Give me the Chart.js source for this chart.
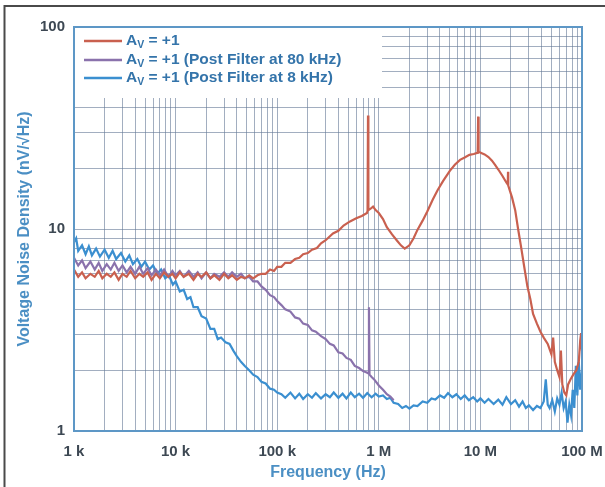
<!DOCTYPE html>
<html>
<head>
<meta charset="utf-8">
<script src="https://cdn.jsdelivr.net/npm/chart.js@4/dist/chart.umd.min.js"></script>
<style>
html,body{margin:0;padding:0;background:#fff;}
#wrap{position:relative;width:605px;height:487px;}
</style>
</head>
<body>
<div id="wrap"><canvas id="c" width="605" height="487"></canvas></div>
<script>
// ---- data (frequencies in kHz, noise density in nV/√Hz) ----
const seriesNames = ['A_V = +1', 'A_V = +1 (Post Filter at 80 kHz)', 'A_V = +1 (Post Filter at 8 kHz)'];

const redFreq = [1,1.1,1.2,1.3,1.45,1.6,1.75,1.9,2.1,2.3,2.5,2.75,3,3.3,3.6,4,4.4,4.8,5.3,5.8,6.4,7,7.7,8.5,9.3,10,11,12,13.5,15,16.5,18,20,22,24,27,30,33,36,40,44,48,53,58,64,70,77,85,93,100,110,120,135,150,165,180,200,220,246,270,300,354,400,450,521,600,680,765,775,783,790,830,878,930,1000,1100,1200,1350,1500,1650,1800,2000,2200,2400,2700,3000,3400,3800,4300,5000,5600,6300,7000,7800,8600,9300,9400,9500,9600,10200,11000,12000,13000,14000,15000,16500,18000,18600,18700,18800,20500,22000,23500,25000,27000,29000,31000,33000,36000,39000,42000,46000,50000,52000,54000,57000,60000,62000,64000,67000,70000,73000,77000,82000,88000,93000,96000,98000,100000];
const redVal = [6.3,5.8,6.1,5.7,6.0,5.8,6.2,5.7,6.0,5.8,6.1,5.6,6.0,5.8,6.2,5.7,6.0,5.8,6.1,5.6,6.0,5.7,6.1,5.8,6.0,5.7,6.1,5.8,6.0,5.6,6.0,5.8,6.1,5.7,5.9,5.6,6.0,5.7,5.9,5.6,5.8,5.7,5.9,5.7,5.9,6.0,6.0,6.3,6.2,6.5,6.5,6.8,6.8,7.1,7.2,7.5,7.6,7.9,8.05,8.5,8.8,9.5,9.8,10.4,10.9,11.3,11.6,12.0,12.3,36.5,12.4,12.6,12.9,12.4,12.0,11.2,10.2,9.4,8.8,8.3,8.0,8.3,9.0,9.9,11.0,12.2,14.0,15.6,17.3,19.4,20.8,22.0,22.6,23.3,23.5,23.8,23.9,36,24.1,23.8,23.4,22.7,21.8,20.7,19.7,18.3,17.0,16.6,19.2,16.4,14.3,12.4,10.0,8.3,6.5,5.2,4.5,3.8,3.4,3.1,2.9,2.7,2.4,2.9,2.2,2.0,1.85,2.5,1.7,1.55,1.5,1.7,1.8,1.9,2.0,2.2,2.8,3.05,2.5];

const purpleFreq = [1,1.1,1.2,1.3,1.45,1.6,1.75,1.9,2.1,2.3,2.5,2.75,3,3.3,3.6,4,4.4,4.8,5.3,5.8,6.4,7,7.7,8.5,9.3,10,11,12,13.5,15,16.5,18,20,22,24,27,30,33,36,40,44,48,53,58,64,70,77,85,93,100,110,120,135,150,165,180,200,220,240,270,300,330,360,400,440,480,530,580,640,700,760,790,800,810,850,900,1000,1100,1200,1300,1400];
const purpleVal = [7.2,6.6,7.0,6.4,6.9,6.3,6.8,6.2,6.7,6.3,6.8,6.2,6.6,6.1,6.5,6.0,6.5,6.0,6.4,5.9,6.3,5.9,6.3,5.8,6.2,5.9,6.2,5.8,6.2,5.8,6.1,5.7,6.1,5.7,6.0,5.8,6.1,5.8,6.1,5.8,6.0,5.7,5.8,5.5,5.5,5.2,5.0,4.7,4.6,4.4,4.2,4.0,3.9,3.65,3.6,3.4,3.35,3.15,3.1,2.95,2.85,2.7,2.65,2.45,2.42,2.3,2.25,2.1,2.05,1.98,1.95,1.93,4.1,1.9,1.85,1.8,1.68,1.6,1.52,1.48,1.42];

const blueFreq = [1,1.05,1.1,1.2,1.3,1.4,1.5,1.65,1.8,2,2.2,2.4,2.6,2.9,3.2,3.5,3.8,4.2,4.6,5,5.5,6,6.6,7.2,7.9,8.6,9.4,10,11,12,13,14,15,16.5,18,20,22,24,26,28,31,34,37,40,44,48,53,58,64,70,77,85,93,100,110,120,135,150,165,180,200,220,240,270,300,330,360,400,440,480,530,580,640,700,770,850,930,1000,1100,1200,1300,1400,1550,1700,1850,2000,2200,2400,2700,3000,3300,3600,4000,4400,4800,5300,5800,6400,7000,7700,8500,9300,10000,11000,12000,13500,15000,16500,18000,20000,22000,24000,26000,28000,30000,33000,36000,39000,42000,44000,46000,48000,51000,54000,57000,60000,63000,66000,69000,72000,75000,78000,81000,84000,87000,90000,93000,96000,100000];
const blueVal = [8.6,9.0,7.8,8.3,7.5,8.2,7.4,8.0,7.3,7.9,7.2,7.8,7.1,7.6,6.9,7.4,6.7,7.1,6.5,6.9,6.3,6.6,6.0,6.3,5.7,5.9,5.3,5.5,4.9,5.0,4.5,4.6,4.1,4.1,3.7,3.6,3.2,3.2,2.85,2.9,2.75,2.7,2.5,2.35,2.2,2.1,2.0,1.9,1.85,1.75,1.72,1.62,1.6,1.55,1.52,1.46,1.55,1.45,1.53,1.44,1.52,1.46,1.54,1.45,1.52,1.47,1.55,1.46,1.53,1.45,1.55,1.47,1.53,1.46,1.54,1.47,1.53,1.48,1.50,1.44,1.46,1.38,1.36,1.30,1.33,1.29,1.34,1.33,1.40,1.38,1.45,1.43,1.50,1.46,1.54,1.47,1.52,1.44,1.50,1.42,1.47,1.40,1.45,1.38,1.44,1.36,1.43,1.35,1.47,1.36,1.42,1.32,1.40,1.30,1.34,1.27,1.33,1.30,1.40,1.80,1.35,1.30,1.42,1.25,1.45,1.35,1.55,1.3,1.4,1.1,1.35,1.2,1.6,1.3,2.1,1.5,2.2,1.6,2.0,1.75];

const seriesColors = ['#c9604f', '#8a72ac', '#3b8fd0'];

const xTickValues = [1e3, 1e4, 1e5, 1e6, 1e7, 1e8];
const xTickLabels = ['1 k', '10 k', '100 k', '1 M', '10 M', '100 M'];
const yTickValues = [1, 10, 100];
const yTickLabels = ['1', '10', '100'];

const xTitle = 'Frequency (Hz)';
const yTitle = 'Voltage Noise Density (nV/\u221AHz)';

// ---- helpers ----
function toPts(f, v) { return f.map((k, i) => ({ x: k * 1000, y: v[i] })); }
function logGrid(majors) {
  const out = [];
  for (let i = 0; i < majors.length; i++) {
    out.push(majors[i]);
    if (i < majors.length - 1) for (let m = 2; m <= 9; m++) out.push(m * majors[i]);
  }
  return out;
}
function labelFor(values, labels, v) {
  for (let i = 0; i < values.length; i++) if (Math.abs(v / values[i] - 1) < 1e-9) return labels[i];
  return '';
}

const FONT = '"Liberation Sans", Arial, Helvetica, sans-serif';
const gridColor = 'rgba(100,120,150,0.6)';
const frameColor = '#5d97c6';

const framePlugin = {
  id: 'frame',
  beforeDraw(chart) {
    const ctx = chart.ctx;
    ctx.save();
    ctx.fillStyle = '#fff';
    ctx.fillRect(0, 0, chart.width, chart.height);
    ctx.strokeStyle = '#4a4a4a';
    ctx.lineWidth = 2;
    ctx.beginPath();
    ctx.moveTo(4.5, chart.height);
    ctx.lineTo(4.5, 6);
    ctx.lineTo(chart.width, 6);
    ctx.stroke();
    ctx.restore();
  },
  beforeDatasetsDraw(chart) {
    const ctx = chart.ctx, a = chart.chartArea;
    ctx.save();
    ctx.fillStyle = '#fff';
    ctx.fillRect(a.left + 1, a.top + 1, 307, 70);
    const rowY = [41, 60, 78];
    for (let i = 0; i < 3; i++) {
      const y = rowY[i];
      ctx.strokeStyle = seriesColors[i];
      ctx.lineWidth = 2.5;
      ctx.beginPath();
      ctx.moveTo(a.left + 10, y);
      ctx.lineTo(a.left + 48, y);
      ctx.stroke();
      const parts = seriesNames[i].split('_V');
      let x = a.left + 52;
      ctx.fillStyle = '#3474aa';
      ctx.textBaseline = 'middle';
      ctx.font = 'bold 15.5px ' + FONT;
      ctx.fillText(parts[0], x, y);
      x += ctx.measureText(parts[0]).width;
      ctx.font = 'bold 10.5px ' + FONT;
      ctx.fillText('V', x, y + 4);
      x += ctx.measureText('V').width;
      ctx.font = 'bold 15.5px ' + FONT;
      ctx.fillText(parts[1], x, y);
    }
    ctx.restore();
  },
  afterDatasetsDraw(chart) {
    const ctx = chart.ctx, a = chart.chartArea;
    ctx.save();
    ctx.strokeStyle = frameColor;
    ctx.lineWidth = 2;
    ctx.strokeRect(a.left, a.top, a.right - a.left, a.bottom - a.top);
    ctx.restore();
  }
};

const ds = [
  { label: seriesNames[0], data: toPts(redFreq, redVal), borderColor: seriesColors[0] },
  { label: seriesNames[1], data: toPts(purpleFreq, purpleVal), borderColor: seriesColors[1] },
  { label: seriesNames[2], data: toPts(blueFreq, blueVal), borderColor: seriesColors[2] }
].map(d => Object.assign(d, { borderWidth: 2.2, pointRadius: 0, tension: 0, fill: false }));

new Chart(document.getElementById('c'), {
  type: 'line',
  data: { datasets: ds },
  plugins: [framePlugin],
  options: {
    responsive: false,
    animation: false,
    events: [],
    layout: { padding: { top: 27, right: 23, left: 0, bottom: 0 } },
    plugins: { legend: { display: false }, tooltip: { enabled: false } },
    scales: {
      x: {
        type: 'logarithmic', min: 1e3, max: 1e8,
        afterBuildTicks(s) { s.ticks = logGrid(xTickValues).map(v => ({ value: v })); },
        afterFit(s) { s.height = 56; s.paddingLeft = 0; s.paddingRight = 0; },
        grid: { color: gridColor, lineWidth: 1, drawTicks: false },
        border: { display: false },
        ticks: {
          autoSkip: false, maxRotation: 0, padding: 12,
          color: '#3d4853', font: { family: FONT, size: 15, weight: 'bold' },
          callback: v => labelFor(xTickValues, xTickLabels, v)
        },
        title: { display: true, text: xTitle, color: '#4b8fc4', font: { family: FONT, size: 16, weight: 'bold' }, padding: { top: 0, bottom: 5 } }
      },
      y: {
        type: 'logarithmic', min: 1, max: 100,
        afterBuildTicks(s) { s.ticks = logGrid(yTickValues).map(v => ({ value: v })); },
        afterFit(s) { s.width = 74; s.paddingTop = 0; s.paddingBottom = 0; },
        grid: { color: gridColor, lineWidth: 1, drawTicks: false },
        border: { display: false },
        ticks: {
          autoSkip: false, padding: 9,
          color: '#3d4853', font: { family: FONT, size: 15, weight: 'bold' },
          callback: v => labelFor(yTickValues, yTickLabels, v)
        },
        title: { display: true, text: yTitle, color: '#4b8fc4', font: { family: FONT, size: 16, weight: 'bold' }, padding: { top: 15, bottom: 0 } }
      }
    }
  }
});
</script>
</body>
</html>
